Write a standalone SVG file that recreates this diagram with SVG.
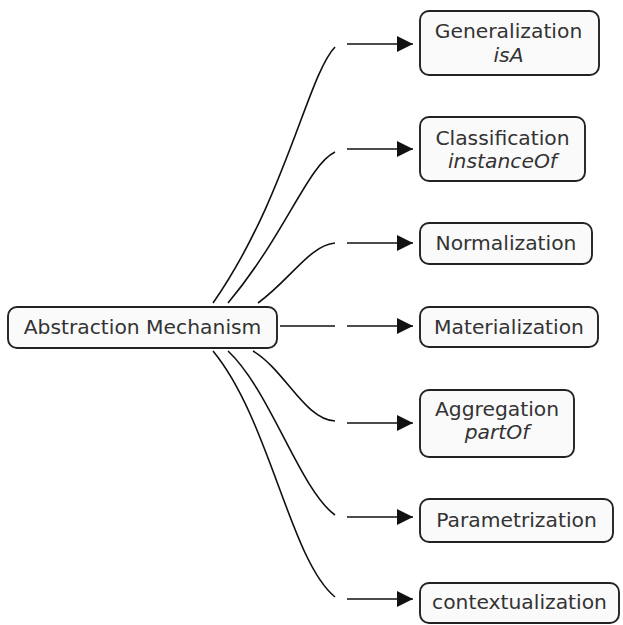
<svg xmlns="http://www.w3.org/2000/svg" width="623" height="625" viewBox="0 0 623 625">
<defs>
<style>
.box{fill:#fafafa;stroke:#222;stroke-width:1.9}
.t{font-family:"DejaVu Sans",Verdana,sans-serif;font-size:20.3px;fill:#333;text-anchor:middle}
.i{font-style:italic}
.c{fill:none;stroke:#111;stroke-width:1.6}
</style>
<marker id="ah" markerWidth="16" markerHeight="16" refX="16" refY="8" orient="auto" markerUnits="userSpaceOnUse">
<path d="M0,0 L16,8 L0,16 Z" fill="#111"/>
</marker>
</defs>
<rect width="623" height="625" fill="#fff"/>
<g id="connectors">
<path class="c" d="M213,303 C285,200 308,75 335,47"/>
<path class="c" d="M228,303 C285,235 308,165 335,152"/>
<path class="c" d="M258,303 C290,280 310,245 335,243"/>
<path class="c" d="M280,326 L335,326"/>
<path class="c" d="M253,351 C285,370 305,420 335,421"/>
<path class="c" d="M228,351 C270,390 300,490 335,515"/>
<path class="c" d="M213,351 C270,420 290,560 335,597"/>
<path class="c" d="M347,44 L413,44" marker-end="url(#ah)"/>
<path class="c" d="M347,149 L413,149" marker-end="url(#ah)"/>
<path class="c" d="M347,243 L413,243" marker-end="url(#ah)"/>
<path class="c" d="M347,326 L413,326" marker-end="url(#ah)"/>
<path class="c" d="M347,423 L413,423" marker-end="url(#ah)"/>
<path class="c" d="M347,517 L413,517" marker-end="url(#ah)"/>
<path class="c" d="M347,599 L413,599" marker-end="url(#ah)"/>
</g>
<g id="abstraction">
<rect class="box" x="8" y="307" width="269" height="41" rx="9"/>
<text class="t" x="142.5" y="334">Abstraction Mechanism</text>
</g>
<g id="generalization">
<rect class="box" x="420" y="11" width="179" height="64" rx="9"/>
<text class="t" x="508.5" y="38">Generalization</text>
<text class="t i" x="508.5" y="62">isA</text>
</g>
<g id="classification">
<rect class="box" x="420" y="117" width="165" height="64" rx="9"/>
<text class="t" x="502.5" y="145">Classification</text>
<text class="t i" x="502.5" y="168">instanceOf</text>
</g>
<g id="normalization">
<rect class="box" x="420" y="223" width="172" height="41" rx="9"/>
<text class="t" x="506" y="250">Normalization</text>
</g>
<g id="materialization">
<rect class="box" x="420" y="307" width="178" height="40" rx="9"/>
<text class="t" x="509" y="334">Materialization</text>
</g>
<g id="aggregation">
<rect class="box" x="420" y="390" width="154" height="67" rx="9"/>
<text class="t" x="497" y="416">Aggregation</text>
<text class="t i" x="497" y="439">partOf</text>
</g>
<g id="parametrization">
<rect class="box" x="420" y="499" width="193" height="43" rx="9"/>
<text class="t" x="516.5" y="527">Parametrization</text>
</g>
<g id="contextualization">
<rect class="box" x="420" y="583" width="199" height="40" rx="9"/>
<text class="t" x="519.5" y="609">contextualization</text>
</g>
</svg>
